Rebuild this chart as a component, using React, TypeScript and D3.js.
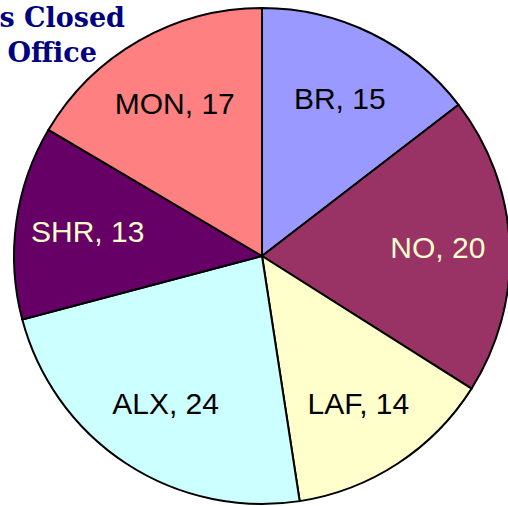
import React from "react";
import * as d3 from "d3";

const offices = ["BR", "NO", "LAF", "ALX", "SHR", "MON"];
const casesClosed = [15, 20, 14, 24, 13, 17];
const sliceColors = ["#9999FF", "#993366", "#FFFFCC", "#CCFFFF", "#660066", "#FF8080"];
const labelColors = ["#000000", "#FFFFCC", "#000000", "#000000", "#FFFFCC", "#000000"];
const titleLines = ["Cases Closed", "by Office"];

const W = 508;
const H = 506;
const cx = 262;
const cy = 256;
const R = 248;

export default function App() {
  const data = offices.map((o, i) => ({ office: o, value: casesClosed[i], i }));
  const pie = d3.pie<any>().value((d) => d.value).sort(null).startAngle(0).endAngle(2 * Math.PI);
  const arcs = pie(data);
  const arc = d3.arc<any>().innerRadius(0).outerRadius(R);
  const labelArc = d3.arc<any>().innerRadius(176).outerRadius(176);

  return (
    <svg width={W} height={H} style={{ position: "absolute", left: 0, top: 0 }}>
      <rect x={0} y={0} width={W} height={H} fill="#ffffff" />
      <g transform={`translate(${cx},${cy})`}>
        {arcs.map((a, k) => (
          <path key={k} d={arc(a) || ""} fill={sliceColors[a.data.i]} stroke="#000" strokeWidth={2} strokeLinejoin="round" />
        ))}
        {arcs.map((a, k) => {
          const [x, y] = labelArc.centroid(a);
          return (
            <text
              key={"l" + k}
              x={x}
              y={y}
              textAnchor="middle"
              dominantBaseline="central"
              fontFamily="'Liberation Sans', Arial, sans-serif"
              fontSize={30}
              fill={labelColors[a.data.i]}
            >
              {`${a.data.office}, ${a.data.value}`}
            </text>
          );
        })}
      </g>
      {titleLines.map((t, i) => (
        <text
          key={"t" + i}
          x={i === 0 ? 125 : 97}
          y={27 + i * 35}
          textAnchor="end"
          fontFamily="'DejaVu Serif', serif"
          fontWeight="bold"
          fontSize={27}
          fill="#000080"
        >
          {t}
        </text>
      ))}
    </svg>
  );
}
